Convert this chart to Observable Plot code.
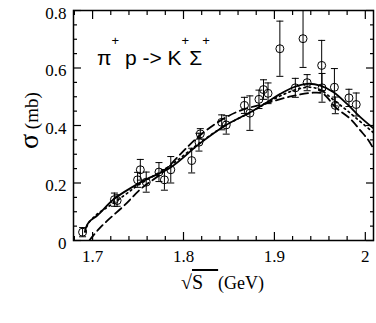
<!DOCTYPE html>
<html><head><meta charset="utf-8">
<script src="https://cdn.jsdelivr.net/npm/d3@7"></script>
<script src="https://cdn.jsdelivr.net/npm/@observablehq/plot@0.6"></script>
<style>body{margin:0;background:#fff;} svg{display:block;}</style>
</head><body><div id="chart"></div>
<script>
// measured points (sqrt(s) in GeV, sigma in mb, error in mb)
const pointX = [1.689,1.724,1.727,1.7495,1.7525,1.759,1.773,1.779,1.786,1.809,1.817,1.8185,1.842,1.847,1.867,1.873,1.883,1.888,1.893,1.906,1.9315,1.923,1.936,1.952,1.9524,1.966,1.967,1.982,1.990];
const pointY = [0.029,0.142,0.139,0.211,0.246,0.203,0.238,0.211,0.246,0.278,0.342,0.371,0.411,0.402,0.470,0.443,0.491,0.525,0.512,0.667,0.702,0.531,0.549,0.609,0.531,0.533,0.470,0.496,0.473];
const pointErr = [0.016,0.023,0.02,0.026,0.036,0.035,0.033,0.036,0.046,0.043,0.031,0.018,0.026,0.032,0.028,0.06,0.032,0.034,0.036,0.096,0.10,0.033,0.028,0.087,0.05,0.065,0.029,0.03,0.04];

// model curves
const solidX = [1.6915,1.6927,1.6964,1.7055,1.7239,1.7532,1.7862,1.8174,1.846,1.8735,1.8919,1.9065,1.9211,1.9359,1.9505,1.9651,1.9799,1.9945,2.009];
const solidY = [0.03,0.045,0.066,0.088,0.145,0.203,0.255,0.336,0.400,0.446,0.481,0.510,0.533,0.545,0.539,0.516,0.475,0.429,0.390];
const dashX = [1.6964,1.7055,1.7165,1.7349,1.7532,1.7752,1.7972,1.8155,1.8405,1.8625,1.8919,1.918,1.9428,1.9538,1.967,1.9835,1.9945,2.0036,2.009];
const dashY = [0.0,0.035,0.070,0.122,0.180,0.232,0.302,0.359,0.417,0.452,0.478,0.501,0.514,0.510,0.464,0.423,0.383,0.348,0.319];
const dotX = [1.6925,1.6945,1.7055,1.7165,1.7349,1.7495,1.786,1.817,1.846,1.874,1.892,1.91,1.925,1.9395,1.9505,1.9651,1.9799,1.9909,2.009];
const dotY = [0.03,0.055,0.093,0.116,0.157,0.191,0.262,0.338,0.400,0.446,0.479,0.508,0.526,0.533,0.524,0.489,0.452,0.423,0.375];

// ticks
const xMajor = [1.7,1.8,1.9,2.0];
const xTickLabels = ["1.7","1.8","1.9","2"];
const xMinor = [1.68,1.72,1.74,1.76,1.78,1.82,1.84,1.86,1.88,1.92,1.94,1.96,1.98];
const yMajor = [0,0.2,0.4,0.6,0.8];
const yTickLabels = ["0","0.2","0.4","0.6","0.8"];
const yMinor = [0.05,0.1,0.15,0.25,0.3,0.35,0.45,0.5,0.55,0.65,0.7,0.75];

const points = pointX.map((x,i)=>({x, y: pointY[i], e: pointErr[i]}));
const solid = solidX.map((x,i)=>({x, y: solidY[i]}));
const dashed = dashX.map((x,i)=>({x, y: dashY[i]}));
const dotted = dotX.map((x,i)=>({x, y: dotY[i]}));

const capSymbol = {draw(ctx, size){ const w = Math.sqrt(size/Math.PI); ctx.moveTo(-w,0); ctx.lineTo(w,0); }};
const serif = "'Liberation Serif', 'Times New Roman', serif";
const sans = "'Liberation Sans', Arial, sans-serif";
const blank = () => "";

const plot = Plot.plot({
  width: 376, height: 323,
  marginLeft: 73, marginRight: 3, marginTop: 10, marginBottom: 83,
  x: {domain: [1.679, 2.009], label: null},
  y: {domain: [0, 0.8], label: null},
  style: {background: "white", color: "black", overflow: "visible"},
  marks: [
    // inward ticks on all four sides
    Plot.axisX(xMajor, {anchor: "bottom", tickSize: -8, tickFormat: blank, label: null, strokeWidth: 1.2}),
    Plot.axisX(xMinor, {anchor: "bottom", tickSize: -4, tickFormat: blank, label: null, strokeWidth: 1.2}),
    Plot.axisX(xMajor, {anchor: "top", tickSize: -8, tickFormat: blank, label: null, strokeWidth: 1.2}),
    Plot.axisX(xMinor, {anchor: "top", tickSize: -4, tickFormat: blank, label: null, strokeWidth: 1.2}),
    Plot.axisY(yMajor, {anchor: "left", tickSize: -8, tickFormat: blank, label: null, strokeWidth: 1.2}),
    Plot.axisY(yMinor, {anchor: "left", tickSize: -4, tickFormat: blank, label: null, strokeWidth: 1.2}),
    Plot.axisY(yMajor, {anchor: "right", tickSize: -8, tickFormat: blank, label: null, strokeWidth: 1.2}),
    Plot.axisY(yMinor, {anchor: "right", tickSize: -4, tickFormat: blank, label: null, strokeWidth: 1.2}),
    // tick labels
    Plot.axisX(xMajor, {anchor: "bottom", tickSize: 0, tickPadding: 9, label: null,
      tickFormat: d => xTickLabels[xMajor.indexOf(d)], fontSize: 17, fontFamily: serif}),
    Plot.axisY(yMajor, {anchor: "left", tickSize: 0, tickPadding: 7, label: null, dy: 3,
      tickFormat: d => yTickLabels[yMajor.indexOf(d)], fontSize: 17, fontFamily: serif}),
    // curves
    Plot.line(dotted, {x: "x", y: "y", curve: "catmull-rom", stroke: "black", strokeWidth: 1.7, strokeDasharray: "1.6,3.6", clip: true}),
    Plot.line(dashed, {x: "x", y: "y", curve: "catmull-rom", stroke: "black", strokeWidth: 1.8, strokeDasharray: "8,4.5", clip: true}),
    Plot.line(solid, {x: "x", y: "y", curve: "catmull-rom", stroke: "black", strokeWidth: 1.8, clip: true}),
    // error bars
    Plot.ruleX(points, {x: "x", y1: d => d.y - d.e, y2: d => d.y + d.e, stroke: "black", strokeWidth: 1, clip: true}),
    Plot.dot(points, {x: "x", y: d => d.y - d.e, symbol: capSymbol, r: 3.5, stroke: "black", strokeWidth: 1, clip: true}),
    Plot.dot(points, {x: "x", y: d => d.y + d.e, symbol: capSymbol, r: 3.5, stroke: "black", strokeWidth: 1, clip: true}),
    Plot.dot(points, {x: "x", y: "y", r: 4, stroke: "black", strokeWidth: 1, fill: "none"}),
    Plot.frame({stroke: "black", strokeWidth: 1.5})
  ]
});

const svg = d3.select(plot);
// reaction annotation
const t = svg.append("text").attr("x", 97).attr("y", 65)
  .style("font-family", sans).style("font-size", "21px").style("text-anchor", "start").attr("fill", "black");
t.append("tspan").text("π");
t.append("tspan").attr("dy", -20).style("font-size", "13px").text("+");
t.append("tspan").attr("dy", 20).text(" p -> K");
t.append("tspan").attr("dy", -20).style("font-size", "13px").text("+");
t.append("tspan").attr("dy", 20).text("Σ");
t.append("tspan").attr("dy", -20).style("font-size", "13px").text("+");

// y label
const yl = svg.append("text").attr("transform", "translate(38,149) rotate(-90)")
  .style("font-family", serif).style("text-anchor", "start").attr("fill", "black");
yl.append("tspan").style("font-size", "28px").text("σ");
yl.append("tspan").style("font-size", "19px").text(" (mb)");

// x label
const xl = svg.append("text").attr("x", 181).attr("y", 289)
  .style("font-family", serif).style("text-anchor", "start").attr("fill", "black");
xl.append("tspan").style("font-size", "20px").text("√");
xl.append("tspan").style("font-size", "20px").style("text-decoration", "overline").text("S   ");
xl.append("tspan").style("font-size", "18px").text("(GeV)");

document.getElementById("chart").appendChild(plot);
</script>
</body></html>
